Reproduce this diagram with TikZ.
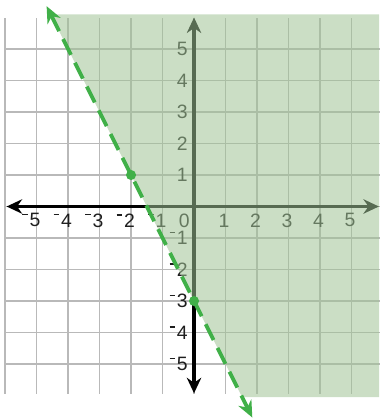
\documentclass[tikz,border=0pt]{standalone}
\usepackage{fontspec}
\setmainfont{Liberation Sans}
\usetikzlibrary{arrows.meta}

\definecolor{gridgray}{RGB}{185,185,185}
\definecolor{linegreen}{RGB}{64,176,72}
\definecolor{shadegreen}{RGB}{160,195,150}
\definecolor{labelink}{RGB}{30,30,30}
\newcommand{\neglabel}[1]{\llap{\raisebox{0.6em}{\rule{0.28em}{0.07em}}\hspace{0.1em}}#1}

\begin{document}
\begin{tikzpicture}[>=Stealth, thick,
    axis/.style={line width=3.4pt, {Stealth[length=14pt,width=13pt]}-{Stealth[length=14pt,width=13pt]}},
    bound/.style={linegreen, line width=3.4pt, dash pattern=on 16pt off 8pt,
      {Stealth[length=15pt,width=13pt]}-{Stealth[length=15pt,width=13pt]}},
    lbl/.style={labelink, font=\fontsize{17.5}{20}\selectfont, inner sep=0pt}]
      \useasboundingbox (-6.16,-6.746) rectangle (5.873,6.556);

      % Grid
      \draw[gridgray, line width=1.5pt] (-6,-5.95) grid (6,5.97);

      % Axes
      \coordinate (xl) at (-5.95,0);
      \coordinate (xr) at (5.87,0);
      \coordinate (yt) at (0,6);
      \coordinate (yb) at (0,-5.93);
      \draw[axis] (xl) -- (xr);
      \draw[axis] (yb) -- (yt);

      % Labels
      \foreach \i in {1,...,5} {
        \node[lbl] (x\i) at (\i-0.05,-0.44) {\i};
        \node[lbl] (xm\i) at (-\i-0.05,-0.44) {\neglabel{\i}};
        \node[lbl] (y\i) at (-0.37,\i) {\i};
        \node[lbl] (ym\i) at (-0.37,-\i) {\neglabel{\i}};
      }
      \node[lbl] (o) at (-0.31,-0.44) {0};

      % Shaded half-plane
      \fill[shadegreen, opacity=0.55] (-4.55,6.1) -- (5.873,6.1) -- (5.873,-6.05) -- (1.525,-6.05) -- cycle;

      % Boundary line
      \coordinate (lt) at (-4.68,6.36);
      \coordinate (lb) at (1.85,-6.7);
      \coordinate (P) at (-2,1);
      \coordinate (Q) at (0,-3);
      \draw[bound] (lt) -- (lb);
      \fill[linegreen] (P) circle (0.16);
      \fill[linegreen] (Q) circle (0.16);
\end{tikzpicture}
\end{document}
